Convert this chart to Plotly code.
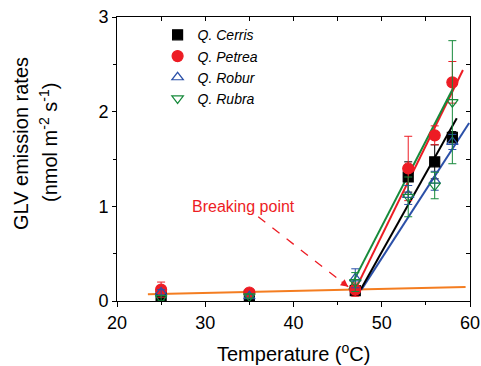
import plotly.graph_objects as go

# ---------------- data ----------------
temps = [25, 35, 47, 53, 56, 58]

cerris = [0.05, 0.06, 0.11, 1.31, 1.47, 1.73]
cerris_err = [0.02, 0.02, 0.03, 0.16, 0.18, 0.06]

petrea = [0.12, 0.09, 0.12, 1.40, 1.75, 2.31]
petrea_err = [0.08, 0.03, 0.07, 0.34, 0.10, 0.22]

robur = [0.09, 0.05, 0.24, 1.12, 1.27, 1.68]
robur_err = [0.03, 0.02, 0.10, 0.10, 0.10, 0.08]

rubra = [0.03, 0.05, 0.20, 1.10, 1.22, 2.10]
rubra_err = [0.03, 0.02, 0.10, 0.21, 0.14, 0.65]

# fitted lines (endpoints)
base_fit_x = [23.5, 59.5]
base_fit_y = [0.07, 0.148]
cerris_fit_x = [47.6, 58.5]
cerris_fit_y = [0.12, 1.93]
petrea_fit_x = [47.0, 59.2]
petrea_fit_y = [0.12, 2.44]
robur_fit_x = [47.7, 59.9]
robur_fit_y = [0.12, 1.88]
rubra_fit_x = [46.3, 58.1]
rubra_fit_y = [0.12, 2.25]

break_x, break_y = 46.2, 0.15
label_x, label_y = 34.3, 1.0
arrow_tail_x, arrow_tail_y = 36.0, 0.89

x_ticks = [20, 30, 40, 50, 60]
y_ticks = [0, 1, 2, 3]

BLACK = "#000000"
RED = "#ed1c24"
BLUE = "#2b50a8"
GREEN = "#178a3c"
ORANGE = "#f47d20"
FONT = "Arial, Liberation Sans, sans-serif"

fig = go.Figure()

# fit lines
for fx, fy, col in [(base_fit_x, base_fit_y, ORANGE),
                    (robur_fit_x, robur_fit_y, BLUE),
                    (cerris_fit_x, cerris_fit_y, BLACK),
                    (petrea_fit_x, petrea_fit_y, RED),
                    (rubra_fit_x, rubra_fit_y, GREEN)]:
    fig.add_trace(go.Scatter(x=fx, y=fy, mode="lines", showlegend=False,
                             line=dict(color=col, width=2), hoverinfo="skip"))

series = [
    ("Q. Cerris", cerris, cerris_err, BLACK, "square", BLACK, 10),
    ("Q. Petrea", petrea, petrea_err, RED, "circle", RED, 11),
    ("Q. Robur", robur, robur_err, BLUE, "triangle-up-open", BLUE, 10),
    ("Q. Rubra", rubra, rubra_err, GREEN, "triangle-down-open", GREEN, 10),
]
for name, ys, es, col, sym, mcol, size in series:
    fig.add_trace(go.Scatter(
        x=temps, y=ys, mode="markers", name=name,
        marker=dict(symbol=sym, color=mcol, size=size, line=dict(color=col, width=1.2)),
        error_y=dict(type="data", array=es, visible=True, color=col, thickness=1, width=4),
    ))

# invisible trace to activate mirror axes
fig.add_trace(go.Scatter(x=[20, 60], y=[0, 3], xaxis="x2", yaxis="y2", mode="markers",
                         marker=dict(opacity=0), showlegend=False, hoverinfo="skip"))

# dashed arrow for breaking point
fig.add_shape(type="line", x0=arrow_tail_x, y0=arrow_tail_y, x1=break_x, y1=break_y,
              xref="x", yref="y", line=dict(color=RED, width=1.3, dash="dash"))
fig.add_annotation(x=break_x, y=break_y, xref="x", yref="y", text="", showarrow=True,
                   arrowhead=2, arrowsize=1, arrowwidth=1.5, arrowcolor=RED,
                   ax=-8, ay=-6.2)
fig.add_annotation(x=label_x, y=label_y, xref="x", yref="y", text="Breaking point",
                   showarrow=False, font=dict(family=FONT, size=16, color=RED))

# axis titles
fig.add_annotation(x=(21 - 117) / 353, y=1 - (143 - 17) / 284, xref="paper", yref="paper",
                   text="GLV emission rates", textangle=-90, showarrow=False,
                   xanchor="center", yanchor="middle", font=dict(family=FONT, size=20, color="black"))
fig.add_annotation(x=(48 - 117) / 353, y=1 - (143 - 17) / 284, xref="paper", yref="paper",
                   text="(nmol m<sup>-2</sup> s<sup>-1</sup>)", textangle=-90, showarrow=False,
                   xanchor="center", yanchor="middle", font=dict(family=FONT, size=20, color="black"))
fig.add_annotation(x=0.5, y=-(352 - 301) / 284, xref="paper", yref="paper",
                   text="Temperature (<sup>o</sup>C)", showarrow=False,
                   xanchor="center", yanchor="middle", font=dict(family=FONT, size=20, color="black"))

axis_common = dict(showgrid=False, zeroline=False, showline=True, linecolor="black", linewidth=1,
                   tickcolor="black", tickwidth=1)

fig.update_layout(
    width=481, height=366,
    margin=dict(l=117, r=11, t=17, b=65, autoexpand=False),
    plot_bgcolor="white", paper_bgcolor="white",
    font=dict(family=FONT, size=18, color="black"),
    showlegend=True,
    legend=dict(x=0.115, y=0.992, xanchor="left", yanchor="top", bgcolor="rgba(0,0,0,0)",
                font=dict(family=FONT, size=14, style="italic"), itemwidth=30,
                tracegroupgap=0),
    xaxis=dict(range=[20, 60], tickvals=x_ticks, ticks="outside", ticklen=5,
               minor=dict(dtick=5, ticks="outside", ticklen=3, tickcolor="black"),
               **axis_common),
    yaxis=dict(range=[0, 3], tickvals=y_ticks, ticks="outside", ticklen=4,
               minor=dict(dtick=0.5, ticks="outside", ticklen=3, tickcolor="black"),
               **axis_common),
    xaxis2=dict(range=[20, 60], overlaying="x", side="top", dtick=5, ticks="inside", ticklen=4,
                showticklabels=False, **axis_common),
    yaxis2=dict(range=[0, 3], overlaying="y", side="right", dtick=0.5, ticks="inside", ticklen=4,
                showticklabels=False, **axis_common),
)

fig.write_html("out.html", config={"displayModeBar": False},
               post_script="document.body.style.margin='0';document.body.style.padding='0';")
